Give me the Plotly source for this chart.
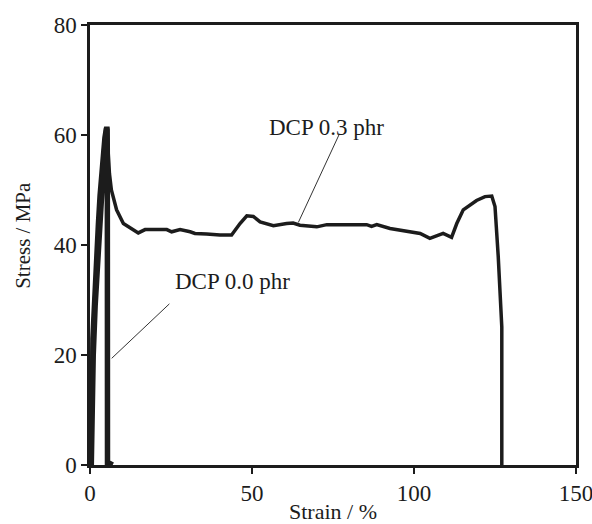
import plotly.graph_objects as go

# ---- data ----
strain_00 = [0.4, 0.6, 1.0, 1.6, 2.3, 3.0, 3.6, 4.1, 4.6, 5.0, 5.2, 5.3, 5.35, 5.4, 6.0, 7.0]
stress_00 = [0.0, 10.0, 20.0, 29.0, 37.0, 44.0, 50.0, 54.0, 58.0, 60.5, 61.5, 61.0, 55.0, 0.0, 0.3, 0.0]

strain_03 = [0.3, 0.35, 0.45, 0.6, 0.9, 1.3, 1.8, 2.3, 2.8, 3.3, 3.8, 4.3, 4.8,
             5.3, 5.6, 6.0, 6.6, 7.2, 8.2, 10.3, 13.4, 14.9, 17.0, 23.7, 25.2, 27.8,
             30.9, 32.4, 36.0, 40.1, 43.7, 46.3, 48.4, 50.4, 52.5, 56.6, 60.7, 62.7,
             64.8, 70.0, 73.1, 85.4, 86.9, 88.5, 92.6, 98.8, 101.9, 104.9, 108.0,
             109.0, 111.6, 113.2, 115.2, 119.3, 121.9, 124.0, 125.0, 126.0, 127.1, 127.1]
stress_03 = [0.0, 10.0, 20.0, 23.0, 27.0, 33.0, 39.0, 44.0, 49.0, 53.0, 56.5, 59.5, 61.3,
             60.5, 57.0, 53.0, 50.0, 48.5, 46.4, 43.9, 42.7, 42.2, 42.8, 42.8, 42.4, 42.8,
             42.4, 42.1, 42.0, 41.8, 41.8, 43.9, 45.3, 45.2, 44.2, 43.5, 43.9, 44.0,
             43.6, 43.3, 43.7, 43.7, 43.4, 43.7, 43.0, 42.3, 42.1, 41.2, 42.0,
             42.1, 41.4, 43.9, 46.4, 48.1, 48.8, 48.9, 47.0, 37.9, 25.1, 0.0]

x_ticks = [0, 50, 100, 150]
y_ticks = [0, 20, 40, 60, 80]

labels = ["DCP 0.0 phr", "DCP 0.3 phr"]
label_x = [44.0, 73.1]
label_y = [33.3, 61.4]
leader_from_x = [24.5, 76.9]
leader_from_y = [29.3, 60.1]
leader_to_x = [6.7, 64.3]
leader_to_y = [19.4, 44.1]

FONT = "Liberation Serif, Times New Roman, serif"
INK = "#1c1c1c"

fig = go.Figure()
fig.add_trace(go.Scatter(x=strain_03, y=stress_03, mode="lines",
                         line=dict(color=INK, width=3.5), showlegend=False, hoverinfo="skip"))
fig.add_trace(go.Scatter(x=strain_00, y=stress_00, mode="lines",
                         line=dict(color=INK, width=5.5), showlegend=False, hoverinfo="skip"))

for i, t in enumerate(labels):
    fig.add_annotation(x=label_x[i], y=label_y[i], text=t, showarrow=False,
                       xref="x", yref="y", font=dict(family=FONT, size=23, color=INK))
    fig.add_shape(type="line", xref="x", yref="y",
                  x0=leader_from_x[i], y0=leader_from_y[i], x1=leader_to_x[i], y1=leader_to_y[i],
                  line=dict(color="#333333", width=1))

# y-axis title placed as a rotated annotation to match the reference position
fig.add_annotation(text="Stress / MPa", xref="paper", yref="paper", x=-0.138, y=0.523,
                   textangle=-90, showarrow=False, xanchor="center", yanchor="middle",
                   font=dict(family=FONT, size=21, color=INK))

axis_common = dict(showgrid=False, zeroline=False, showline=True, linewidth=2.5,
                   linecolor=INK, mirror=True, ticks="outside", ticklen=6, tickwidth=1.5,
                   tickcolor=INK, tickfont=dict(family=FONT, size=23, color=INK),
                   automargin=False, ticklabeloverflow="allow")

fig.update_xaxes(range=[0, 150], tickvals=x_ticks, ticktext=[str(v) for v in x_ticks],
                 title=dict(text="Strain / %", font=dict(family=FONT, size=22, color=INK), standoff=3),
                 **axis_common)
fig.update_yaxes(range=[0, 80], tickvals=y_ticks, ticktext=[str(v) for v in y_ticks],
                 **axis_common)

fig.update_layout(width=592, height=524, margin=dict(l=90, r=16, t=25, b=59),
                  paper_bgcolor="white", plot_bgcolor="white")

fig.write_html("out.html")
